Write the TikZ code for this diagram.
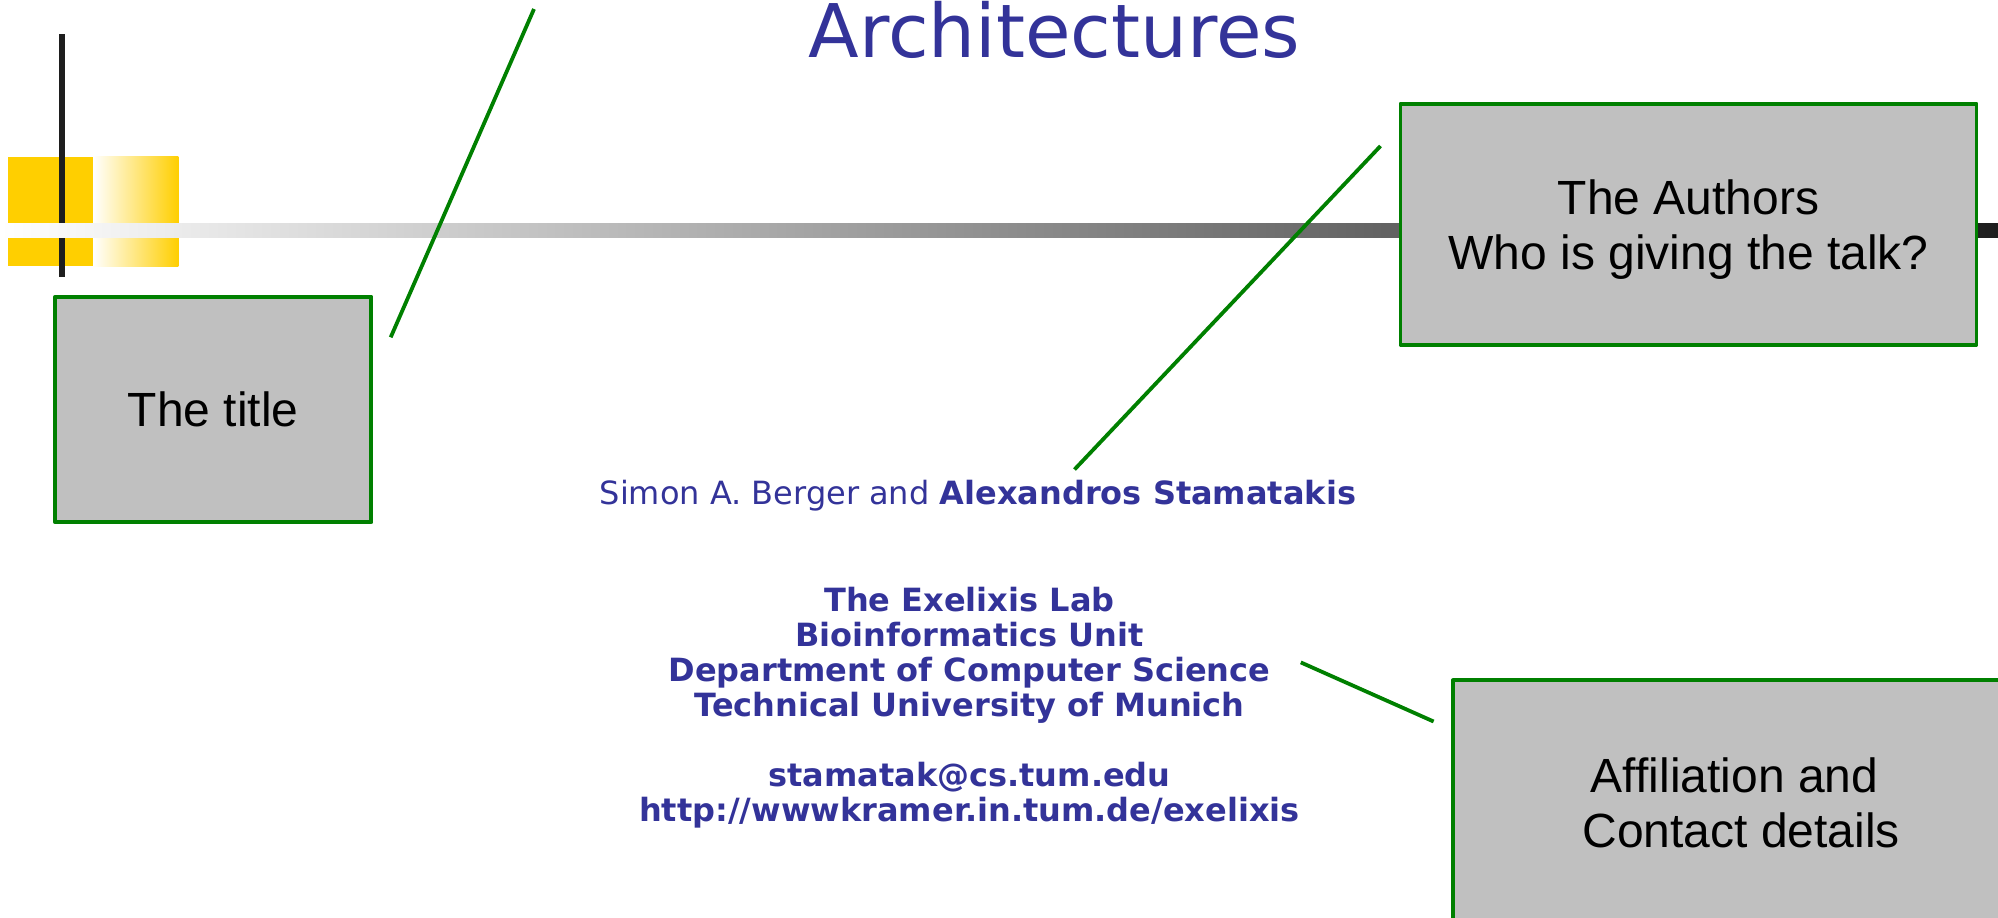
\documentclass[tikz,border=0pt]{standalone}
\usepackage{fontspec}
\setmainfont{Liberation Sans}
\newfontfamily\vera{DejaVu Sans}

\definecolor{slateblue}{HTML}{333399}
\definecolor{boxgreen}{HTML}{008000}
\definecolor{boxgray}{HTML}{C0C0C0}
\definecolor{logoyellow}{HTML}{FFCF00}
\definecolor{barblack}{HTML}{1E1E1E}

\tikzset{
  callout/.style={draw=boxgreen, fill=boxgray, line width=3.8pt, line join=round,
    align=center, inner sep=0pt, text depth=0pt, font=\fontsize{48}{55}\selectfont},
  pointer/.style={boxgreen, line width=3.8pt},
  bluetext/.style={slateblue, inner sep=0pt, anchor=base},
}

\begin{document}
\begin{tikzpicture}[x=1pt, y=-1pt]
\useasboundingbox (0,0) rectangle (1998,918);

%Logo Drawing

\fill [logoyellow] (7.6,156.7) rectangle (93,266.3);
\shade [left color=white, right color=logoyellow] (93,156.7) rectangle (178.4,266.3);
\fill [barblack] (58.6,34.4) rectangle (65.4,276.5);
\shade [left color=white, right color=barblack] (0,223) rectangle (1998,237);

%Slide title

\node [bluetext, font=\vera\fontsize{74}{88}\selectfont] (title) at (1054.5,57) {Architectures};

%Callout boxes

\node [callout, minimum width=316.3pt, minimum height=225.6pt] (titlebox) at (213.2,409.5) {The title};
\node [callout, minimum width=576pt, minimum height=241pt] (authorbox) at (1688.5,224.2) {The Authors\\Who is giving the talk?};
\node [callout, minimum width=563pt, minimum height=244pt] (affilbox) at (1734.5,802.3) {Affiliation and\\\hspace*{0.278em}Contact details};

%Authors and affiliation

\node [bluetext, anchor=base west, font=\vera\fontsize{32}{37}\selectfont] (authors) at (599.5,504) {Simon A. Berger and \textbf{Alexandros Stamatakis}};

\foreach \row/\txt in {0/The Exelixis Lab, 1/Bioinformatics Unit, 2/Department of Computer Science, 3/Technical University of Munich, 5/stamatak@cs.tum.edu, 6/{http://wwwkramer.in.tum.de/exelixis}}
  \node [bluetext, font=\vera\bfseries\fontsize{32}{35}\selectfont] (affil\row) at (969.5,611.7+35*\row) {\txt};

%Pointer lines

\coordinate (titletip) at (534,9);
\coordinate (titlefoot) at (390.7,337.3);
\coordinate (authortip) at (1074.5,469.5);
\coordinate (authorfoot) at (1380.5,146);
\coordinate (affiltip) at (1300.8,662.4);
\coordinate (affilfoot) at (1433.6,721.5);

\draw [pointer] (titlefoot) -- (titletip);
\draw [pointer] (authorfoot) -- (authortip);
\draw [pointer] (affiltip) -- (affilfoot);

\end{tikzpicture}
\end{document}
